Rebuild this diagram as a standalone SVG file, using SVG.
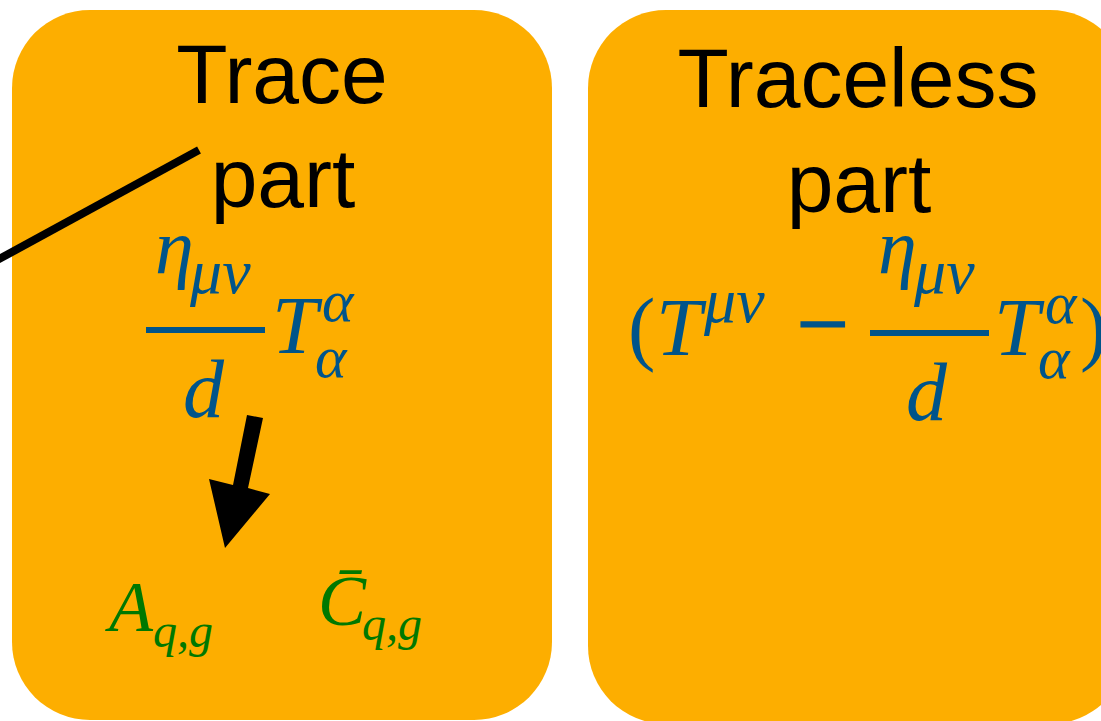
<svg xmlns="http://www.w3.org/2000/svg" width="1101" height="721" viewBox="0 0 1101 721">
<style>
.box{fill:#FDAE00}
.head{font-family:"Liberation Sans",Arial,sans-serif;font-size:84px;fill:#000;text-anchor:middle}
.m{font-family:"Liberation Serif","Times New Roman",serif;font-style:italic;fill:#00548A}
.r{font-family:"Liberation Serif","Times New Roman",serif;font-style:normal}
.big{font-size:82px}
.eta{font-size:78px}
.mn{font-size:64px}
.al{font-size:60px}
.g{font-family:"Liberation Serif","Times New Roman",serif;font-style:italic;fill:#007800}
.bar{fill:#00548A}
</style>
<rect width="1101" height="721" fill="#fff"/>
<g id="trace">
<rect class="box" x="12" y="10" width="540" height="710" rx="78" ry="78"/>
<text class="head" x="282" y="103">Trace</text>
<text class="head" x="283" y="207">part</text>
<g id="trace-formula">
<text class="m"><tspan class="eta" x="155" y="273">η</tspan><tspan class="mn" x="190" y="293">μν</tspan></text>
<rect class="bar" x="146" y="327" width="119" height="6"/>
<text class="m big" x="183" y="417">d</text>
<text class="m"><tspan class="big" x="272" y="353">T</tspan><tspan class="al" x="322" y="321">α</tspan><tspan class="al" x="315" y="377">α</tspan></text>
</g>
<g id="A">
<text class="g"><tspan x="109" y="631" font-size="72">A</tspan><tspan x="153" y="647" font-size="48">q,g</tspan></text>
</g>
<g id="Cbar">
<text class="g"><tspan x="318" y="625" font-size="72">C̄</tspan><tspan x="362" y="640" font-size="48">q,g</tspan></text>
</g>
</g>
<g id="traceless">
<rect class="box" x="588" y="10" width="540" height="714" rx="78" ry="78"/>
<text class="head" x="858" y="107">Traceless</text>
<text class="head" x="859" y="212">part</text>
<g id="traceless-formula">
<text class="m"><tspan class="r big" x="628" y="355">(</tspan><tspan class="big" x="656" y="355">T</tspan><tspan class="mn" x="704" y="322">μν</tspan><tspan class="r" x="797" y="355" font-size="92" stroke="#00548A" stroke-width="1.8">−</tspan></text>
<text class="m"><tspan class="eta" x="878" y="273">η</tspan><tspan class="mn" x="914" y="293">μν</tspan></text>
<rect class="bar" x="870" y="330" width="119" height="6"/>
<text class="m big" x="906" y="420">d</text>
<text class="m"><tspan class="big" x="994" y="355">T</tspan><tspan class="al" x="1045" y="323">α</tspan><tspan class="al" x="1038" y="378">α</tspan><tspan class="r big" x="1080" y="355">)</tspan></text>
</g>
</g>
<g id="connectors">
<line x1="-10" y1="264" x2="199" y2="150" stroke="#000" stroke-width="8"/>
<polygon points="247,415 263,418 248,488 270,494 225,548 209,479 233,485" fill="#000"/>
</g>
</svg>
